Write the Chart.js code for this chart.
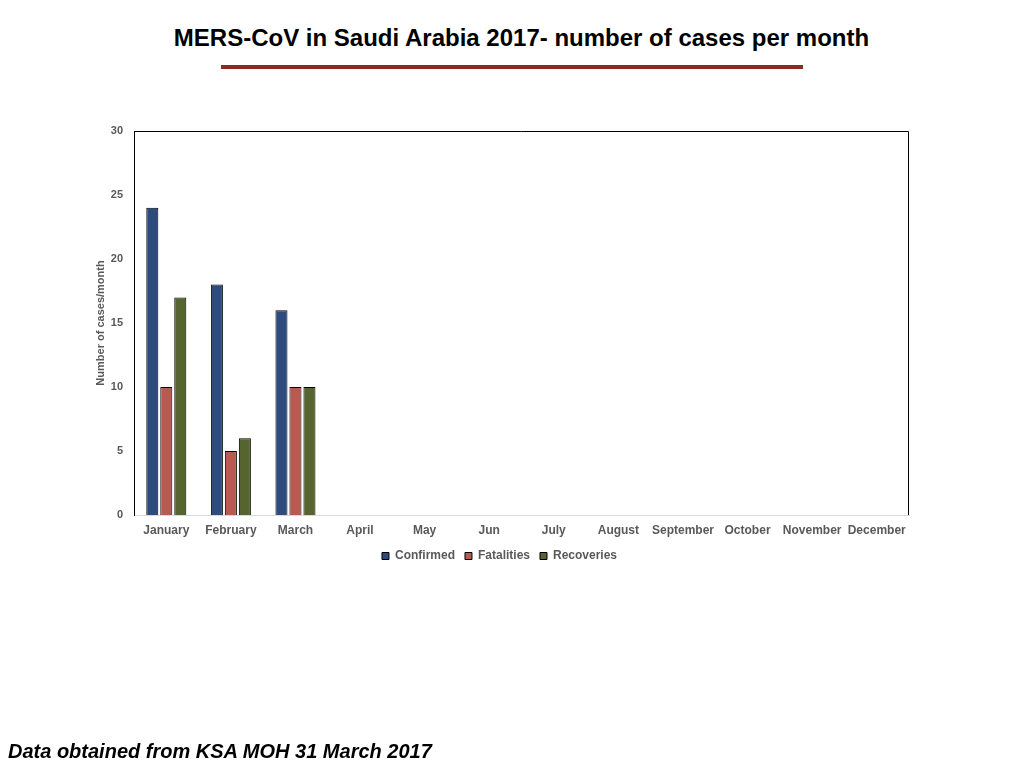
<!DOCTYPE html>
<html>
<head>
<meta charset="utf-8">
<script src="https://cdn.jsdelivr.net/npm/chart.js@4/dist/chart.umd.min.js"></script>
<style>
  html, body { margin:0; padding:0; background:#fff; }
  #wrap { position:relative; width:1024px; height:768px; overflow:hidden; }
  #title { position:absolute; left:0; width:1043px; top:24px; text-align:center;
           font-family:"Liberation Sans", Arial, sans-serif; font-weight:bold; font-size:24px; color:#000; }
  #rule { position:absolute; left:221px; top:65px; width:582px; height:4px; background:#8B2A1F; }
  #foot { position:absolute; left:8px; top:740px; font-family:"Liberation Sans", Arial, sans-serif;
          font-weight:bold; font-style:italic; font-size:20px; color:#000; }
  #c { position:absolute; left:0; top:0; }
</style>
</head>
<body>
<div id="wrap">
  <div id="title">MERS-CoV in Saudi Arabia 2017- number of cases per month</div>
  <div id="rule"></div>
  <canvas id="c" width="1024" height="768"></canvas>
  <div id="foot">Data obtained from KSA MOH 31 March 2017</div>
</div>
<script>
const months = ["January","February","March","April","May","Jun","July","August","September","October","November","December"];
const confirmed  = [24, 18, 16, null, null, null, null, null, null, null, null, null];
const fatalities = [10, 5, 10, null, null, null, null, null, null, null, null, null];
const recoveries = [17, 6, 10, null, null, null, null, null, null, null, null, null];
const yTicks = [0, 5, 10, 15, 20, 25, 30];

const frame = {
  id: 'frame',
  afterDatasetsDraw(chart) {
    const a = chart.chartArea, ctx = chart.ctx;
    ctx.save();
    ctx.strokeStyle = '#000';
    ctx.lineWidth = 1;
    ctx.beginPath();
    ctx.moveTo(a.left + 0.5, a.bottom);
    ctx.lineTo(a.left + 0.5, a.top + 0.5);
    ctx.lineTo(a.right - 0.5, a.top + 0.5);
    ctx.lineTo(a.right - 0.5, a.bottom);
    ctx.stroke();
    ctx.restore();
  }
};

const tickFont = { family: '"Liberation Sans", Arial, sans-serif', weight: 'bold', size: 12 };
const yFont = { family: '"Liberation Sans", Arial, sans-serif', weight: 'bold', size: 11 };

new Chart(document.getElementById('c'), {
  type: 'bar',
  data: {
    labels: months,
    datasets: [
      { label: 'Confirmed',  data: confirmed,  backgroundColor: '#2E4B7E', borderColor: '#000', borderWidth: 1 },
      { label: 'Fatalities', data: fatalities, backgroundColor: '#B85A52', borderColor: '#000', borderWidth: 1 },
      { label: 'Recoveries', data: recoveries, backgroundColor: '#566430', borderColor: '#000', borderWidth: 1 }
    ]
  },
  options: {
    responsive: false,
    animation: false,
    devicePixelRatio: 1,
    categoryPercentage: 0.65,
    barPercentage: 0.86,
    layout: { padding: { left: 90, top: 131, right: 115, bottom: 196 } },
    plugins: {
      legend: {
        position: 'bottom',
        labels: {
          boxWidth: 7, boxHeight: 7, padding: 10,
          color: '#595959', font: tickFont,
          generateLabels(chart) {
            return chart.data.datasets.map((d, i) => ({
              text: d.label, fillStyle: d.backgroundColor, strokeStyle: '#000',
              lineWidth: 1, hidden: false, datasetIndex: i, fontColor: '#595959'
            }));
          }
        }
      },
      tooltip: { enabled: false },
      title: { display: false }
    },
    scales: {
      x: {
        grid: { display: false, drawTicks: false },
        border: { display: true, color: '#D9D9D9', width: 1 },
        ticks: { color: '#595959', font: tickFont, padding: 8, maxRotation: 0, autoSkip: false },
        afterFit(s) { s.height = 25; }
      },
      y: {
        min: 0, max: 30,
        afterBuildTicks(s) { s.ticks = yTicks.map(v => ({ value: v })); },
        grid: { display: false, drawTicks: false },
        border: { display: true, color: '#000', width: 1 },
        ticks: { color: '#595959', font: yFont, padding: 11 },
        title: { display: true, text: 'Number of cases/month', color: '#595959', font: yFont, padding: 4 },
        afterFit(s) { s.width = 44; }
      }
    }
  },
  plugins: [frame]
});
</script>
</body>
</html>
